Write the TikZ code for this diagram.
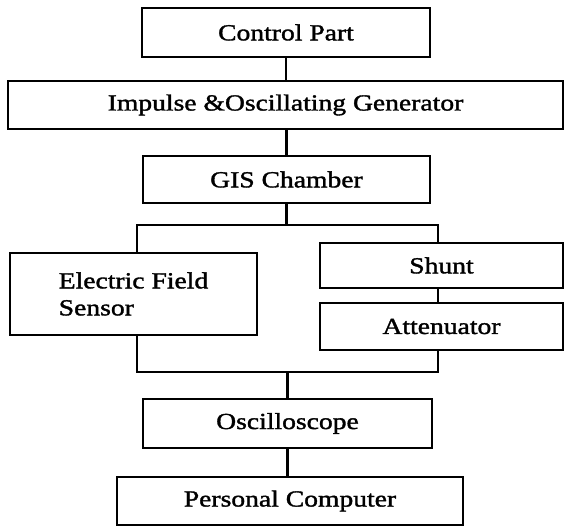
\documentclass[tikz,border=0pt]{standalone}
\usepackage{fontspec}
\setmainfont{Liberation Serif}[FakeStretch=1.2,FakeBold=1.5]
\begin{document}
\begin{tikzpicture}[x=1pt,y=-1pt,
  blk/.style={draw=black,line width=2.2pt,inner sep=0pt,
    font=\fontsize{23}{27}\selectfont,text=black},
  wire/.style={draw=black,line width=2.2pt}]
\useasboundingbox[fill=white] (0,0) rectangle (565,526);
\node[blk,minimum width=288pt,minimum height=49pt] (ctrl) at (286,32.5) {Control Part};
\node[blk,minimum width=555pt,minimum height=48pt] (imp) at (285.5,105) {Impulse \&Oscillating Generator};
\node[blk,minimum width=287pt,minimum height=47pt] (gis) at (286.5,179.5) {GIS Chamber};
\node[blk,minimum width=247pt,minimum height=82pt,align=left] (efs) at (133.5,294) {Electric Field\\Sensor};
\node[blk,minimum width=243pt,minimum height=45pt] (shunt) at (441.5,265.5) {Shunt};
\node[blk,minimum width=243pt,minimum height=47pt] (att) at (441.5,326.5) {Attenuator};
\node[blk,minimum width=289pt,minimum height=49pt] (osc) at (287.5,423.5) {Oscilloscope};
\node[blk,minimum width=346pt,minimum height=48pt] (pc) at (290,501) {Personal Computer};
\coordinate (tl) at (137,225);
\coordinate (tr) at (438,225);
\coordinate (bl) at (137,372);
\coordinate (br) at (438,372);
\draw[wire] (ctrl.south) -- (ctrl.south |- imp.north);
\draw[wire] (gis.north |- imp.south) -- (gis.north);
\draw[wire] (gis.south) -- (gis.south |- tl);
\draw[wire] (efs.north -| tl) -- (tl) -- (tr) -- (shunt.north -| tr);
\draw[wire] (shunt.south -| tr) -- (att.north -| tr);
\draw[wire] (efs.south -| bl) -- (bl) -- (br) -- (att.south -| br);
\draw[wire] (osc.north |- bl) -- (osc.north);
\draw[wire] (osc.south) -- (osc.south |- pc.north);
\end{tikzpicture}
\end{document}
